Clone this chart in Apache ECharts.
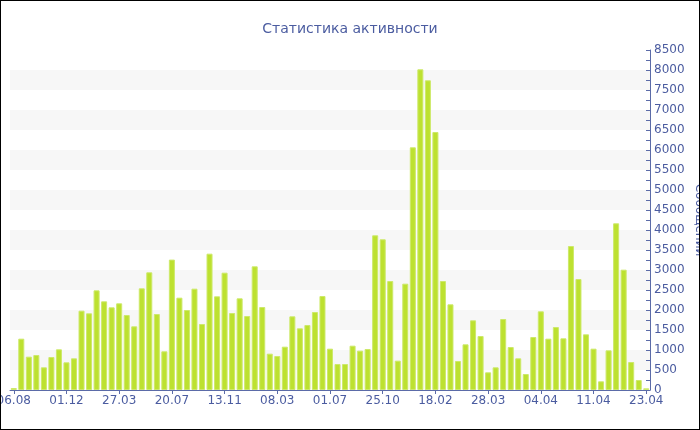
<!DOCTYPE html>
<html>
<head>
<meta charset="utf-8">
<script src="https://cdn.jsdelivr.net/npm/echarts@6/dist/echarts.min.js"></script>
<style>
html,body{margin:0;padding:0;background:#fff;}
#wrap{position:relative;width:700px;height:430px;}
#chart{position:absolute;left:0;top:0;width:700px;height:430px;}
#frame{position:absolute;left:0;top:0;width:700px;height:430px;box-sizing:border-box;border:1px solid #000;pointer-events:none;}
</style>
</head>
<body>
<div id="wrap"><div id="chart"></div><div id="frame"></div></div>
<script>
const titleText = 'Статистика активности';
const yAxisName = 'Сообщений';
const tickLabels = ['06.08','01.12','27.03','20.07','13.11','08.03','01.07','25.10','18.02','28.03','04.04','11.04','23.04'];
const labelStep = 7;
const messages = [
  50, 1283, 833, 875, 567, 825, 1017, 692, 792, 1983,
  1917, 2492, 2217, 2067, 2167, 1875, 1592, 2542, 2942, 1900,
  967, 3260, 2308, 2000, 2533, 1650, 3408, 2342, 2933, 1925,
  2292, 1850, 3092, 2075, 908, 850, 1083, 1842, 1542, 1625,
  1950, 2350, 1033, 650, 650, 1108, 983, 1025, 3867, 3767,
  2725, 733, 2658, 6067, 8017, 7742, 6450, 2725, 2142, 725,
  1142, 1742, 1350, 442, 567, 1775, 1075, 792, 400, 1325,
  1967, 1283, 1575, 1292, 3600, 2775, 1392, 1033, 217, 992,
  4167, 3008, 700, 250, 42
];
const categories = messages.map((v, i) => (i % labelStep === 0 ? (tickLabels[i / labelStep] || '') : ''));

const textColor = '#4b5ca0';
const axisColor = '#5b6ba8';
const chart = echarts.init(document.getElementById('chart'), null, {renderer: 'canvas'});
chart.setOption({
  animation: false,
  backgroundColor: '#fff',
  title: {
    text: titleText, left: 'center', top: 17,
    textStyle: {color: textColor, fontSize: 14, fontWeight: 'normal', fontFamily: 'DejaVu Sans'}
  },
  grid: {left: 10, right: 50, top: 50, bottom: 40, containLabel: false, outerBoundsMode: 'none'},
  xAxis: {
    type: 'category', data: categories, boundaryGap: true,
    axisLine: {lineStyle: {color: axisColor, width: 1}},
    axisTick: {show: true, interval: labelStep - 1, alignWithLabel: true, length: 4, lineStyle: {color: axisColor}},
    axisLabel: {interval: labelStep - 1, margin: 5, color: textColor, fontSize: 12, fontFamily: 'DejaVu Sans', hideOverlap: false},
    splitLine: {show: false}
  },
  yAxis: {
    type: 'value', position: 'right', min: 0, max: 8500, interval: 500,
    name: yAxisName, nameLocation: 'middle', nameRotate: -90, nameGap: 43, nameMoveOverlap: false,
    nameTextStyle: {color: textColor, fontSize: 12, fontFamily: 'DejaVu Sans'},
    axisLine: {show: true, lineStyle: {color: axisColor, width: 1}},
    axisTick: {show: true, inside: true, length: 4, lineStyle: {color: axisColor}},
    minorTick: {show: true, splitNumber: 2, length: 4, lineStyle: {color: axisColor}},
    axisLabel: {color: textColor, fontSize: 12, margin: 4, fontFamily: 'DejaVu Sans', formatter: (v) => String(v)},
    splitLine: {show: false},
    splitArea: {show: true, areaStyle: {color: ['rgba(255,255,255,0)', '#f7f7f7']}}
  },
  series: [{
    type: 'bar', data: messages, barCategoryGap: '20%',
    itemStyle: {color: '#bde130', borderColor: '#cde96a', borderWidth: 1}
  }]
});
</script>
</body>
</html>
